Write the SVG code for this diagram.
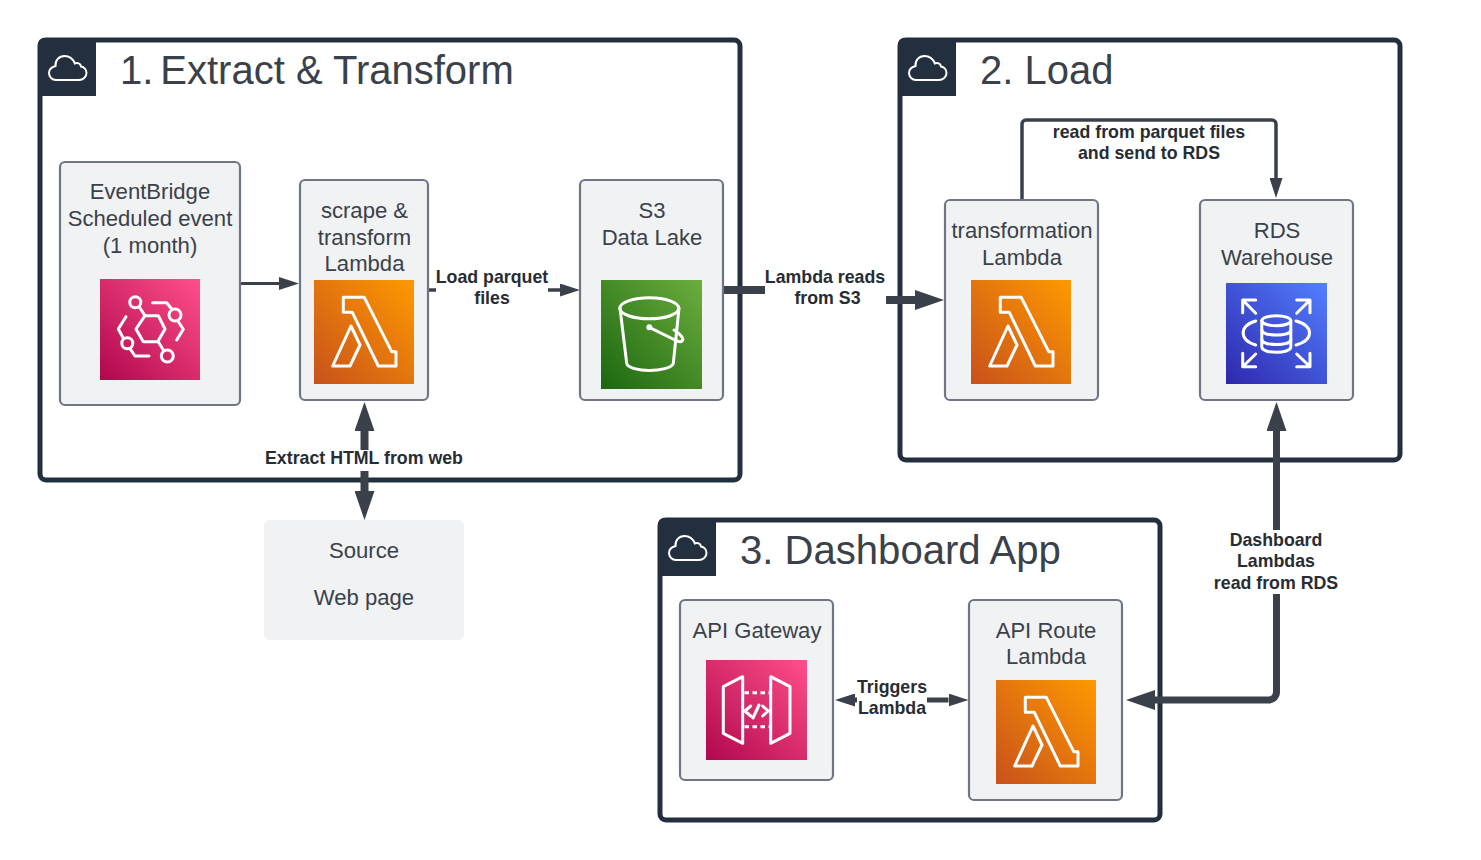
<svg xmlns="http://www.w3.org/2000/svg" width="1481" height="860" viewBox="0 0 1481 860">
<style>
text{font-family:"Liberation Sans",Arial,sans-serif}
.t{font-size:22.1px;fill:#3a414a;text-anchor:middle}
.h{font-size:40px;fill:#3a414a}
.l{font-size:17.75px;font-weight:700;fill:#282c33;text-anchor:middle}
.n{fill:#f1f2f4;stroke:#6e7584;stroke-width:2.2}
.g{fill:none;stroke:#232f3e;stroke-width:5}
.hd{fill:#232f3e}
.c{fill:none;stroke:#3a414a}
.w{fill:none;stroke:#fff;stroke-width:3;stroke-linejoin:round;stroke-linecap:round}
.cl{fill:none;stroke:#fff;stroke-width:2}
</style>
<defs>
<linearGradient id="gO" x1="0" y1="1" x2="1" y2="0"><stop offset="0" stop-color="#c8511b"/><stop offset="1" stop-color="#f90"/></linearGradient>
<linearGradient id="gP" x1="0" y1="1" x2="1" y2="0"><stop offset="0" stop-color="#b0084d"/><stop offset="1" stop-color="#ff4f8b"/></linearGradient>
<linearGradient id="gG" x1="0" y1="1" x2="1" y2="0"><stop offset="0" stop-color="#1b660f"/><stop offset="1" stop-color="#6cae3e"/></linearGradient>
<linearGradient id="gB" x1="0" y1="1" x2="1" y2="0"><stop offset="0" stop-color="#2e27ad"/><stop offset="1" stop-color="#527fff"/></linearGradient>
<marker id="aS" viewBox="0 0 20 13" refX="0" refY="6.5" markerWidth="20" markerHeight="13" markerUnits="userSpaceOnUse" orient="auto-start-reverse"><path d="M0 0L20 6.5L0 13Z" fill="#3a414a"/></marker>
<marker id="aL" viewBox="0 0 29 20" refX="0" refY="10" markerWidth="29" markerHeight="20" markerUnits="userSpaceOnUse" orient="auto-start-reverse"><path d="M0 0L29 10L0 20Z" fill="#3a414a"/></marker>
<g id="lam">
<rect width="100" height="104" fill="url(#gO)"/>
<path class="w" d="M29.300 17.300H50.300L77.700 71.700H82V86H64.300L38.300 32.300H29.300Z"/>
<path class="w" d="M37 46L46 65L36 86H18.700Z"/>
</g>
<path id="cloud" class="cl" d="M8 25H31C35 25 38.500 22 38.500 18C38.500 14.500 36 12 33 11.500C32.500 8.500 29.500 7 27 8.500C25 4 21 1 16.500 1C11 1 7 5.500 7.500 11C3.500 12 1 14.500 1 18C1 22 4 25 8 25Z"/>
</defs>

<g id="group-extract">
<rect class="g" x="40" y="40" width="700" height="440" rx="6"/>
<path class="hd" d="M38 44a6 6 0 0 1 6-6H96V96H38Z"/>
<use href="#cloud" x="48" y="55"/>
<text class="h" x="120" y="84">1.<tspan x="160.300">Extract &amp; Transform</tspan></text>
</g>
<g id="group-load">
<rect class="g" x="900" y="40" width="500" height="420" rx="6"/>
<path class="hd" d="M898 44a6 6 0 0 1 6-6H956V96H898Z"/>
<use href="#cloud" x="908" y="55"/>
<text class="h" x="980" y="84">2. Load</text>
</g>
<g id="group-dashboard">
<rect class="g" x="660" y="520" width="500" height="300" rx="6"/>
<path class="hd" d="M658 524a6 6 0 0 1 6-6H716V576H658Z"/>
<use href="#cloud" x="668" y="535"/>
<text class="h" x="740" y="564" style="font-size:40.1px">3. Dashboard App</text>
</g>

<g id="connectors">
<path class="c" stroke-width="3" marker-end="url(#aS)" d="M241 283.500H279"/>
<path class="c" stroke-width="3.500" d="M429 290H436"/>
<path class="c" stroke-width="3.500" marker-end="url(#aS)" d="M548 290H560"/>
<path class="c" stroke-width="8" d="M724 290H765"/>
<path class="c" stroke-width="8" marker-end="url(#aL)" d="M886 300H915"/>
<path class="c" stroke-width="8" marker-start="url(#aL)" d="M364.500 431V450"/>
<path class="c" stroke-width="8" marker-end="url(#aL)" d="M364.500 471V491"/>
<path class="c" stroke-width="3.500" marker-end="url(#aS)" d="M1022 200V124a4 4 0 0 1 4-4H1272a4 4 0 0 1 4 4V178"/>
<path class="c" stroke-width="7" marker-start="url(#aL)" d="M1276.500 431V530"/>
<path class="c" stroke-width="7" marker-end="url(#aL)" d="M1276.500 594V692a8 8 0 0 1-8 8H1155"/>
<path class="c" stroke-width="5" marker-end="url(#aS)" d="M857 700H855"/>
<path class="c" stroke-width="5" marker-end="url(#aS)" d="M927 700H948.500"/>
</g>

<g id="labels">
<text class="l" x="492" y="283">Load parquet</text>
<text class="l" x="492" y="304">files</text>
<text class="l" x="825" y="283">Lambda reads</text>
<text class="l" x="827.500" y="304">from S3</text>
<text class="l" x="364" y="464">Extract HTML from web</text>
<text class="l" x="1149" y="138">read from parquet files</text>
<text class="l" x="1149" y="159">and send to RDS</text>
<text class="l" x="1276" y="546">Dashboard</text>
<text class="l" x="1276" y="567">Lambdas</text>
<text class="l" x="1276" y="589">read from RDS</text>
<text class="l" x="892" y="693">Triggers</text>
<text class="l" x="892" y="714">Lambda</text>
</g>

<g id="node-eventbridge">
<rect class="n" x="60" y="162" width="180" height="243" rx="5"/>
<text class="t" x="150" y="199">EventBridge</text>
<text class="t" x="150" y="226">Scheduled event</text>
<text class="t" x="150" y="253">(1 month)</text>
<rect x="100" y="279" width="100" height="101" fill="url(#gP)"/>
<g class="w" transform="translate(100 279)">
<circle cx="35.300" cy="23.300" r="5.500"/>
<circle cx="75" cy="36" r="6"/>
<circle cx="27.300" cy="64.300" r="5.500"/>
<circle cx="67.300" cy="77" r="6"/>
<path d="M45 36.700H58.300L65 50L57.700 62.700H43.300L36 50Z"/>
<path d="M40 29L45 36.700"/>
<path d="M58.300 62.700L63.300 71"/>
<path d="M52.700 23.700H66.700L71.700 30"/>
<path d="M78.300 42.700L83.300 50.300L76.700 61"/>
<path d="M26 37.700L18.300 50L23.300 59.300"/>
<path d="M30 69.700L35 77H49"/>
</g>
</g>

<g id="node-scrape">
<rect class="n" x="300" y="180" width="128" height="220" rx="5"/>
<text class="t" x="364.500" y="217.500">scrape &amp;</text>
<text class="t" x="364.500" y="244.500">transform</text>
<text class="t" x="364.500" y="271">Lambda</text>
<use href="#lam" x="314" y="280"/>
</g>

<g id="node-s3">
<rect class="n" x="580" y="180" width="143" height="220" rx="5"/>
<text class="t" x="652" y="218">S3</text>
<text class="t" x="652" y="245">Data Lake</text>
<rect x="601" y="280" width="101" height="109" fill="url(#gG)"/>
<g class="w" transform="translate(601 280)">
<ellipse cx="48.300" cy="28.300" rx="29.500" ry="10.500"/>
<path d="M19 28.300L25.700 83.300C26.500 88 38 90.500 48.300 90.500C58.500 90.500 71.500 88 72.300 83.300L78 28.300"/>
<path d="M48.300 47.300L76 61C81 63 83 60 81 57C79 54 76 52 73 50"/>
<circle cx="48.300" cy="47.300" r="1.500"/>
</g>
</g>

<g id="node-transform">
<rect class="n" x="945" y="200" width="153" height="200" rx="5"/>
<text class="t" x="1022" y="238">transformation</text>
<text class="t" x="1022" y="265">Lambda</text>
<use href="#lam" x="971" y="280"/>
</g>

<g id="node-rds">
<rect class="n" x="1200" y="200" width="153" height="200" rx="5"/>
<text class="t" x="1277" y="238">RDS</text>
<text class="t" x="1277" y="265">Warehouse</text>
<rect x="1226" y="283" width="101" height="101" fill="url(#gB)"/>
<g class="w" transform="translate(1226 283)">
<ellipse cx="50.300" cy="37.700" rx="14.500" ry="5"/>
<path d="M35.800 37.700V64C35.800 67.500 43 69.300 50.300 69.300S64.800 67.500 64.800 64V37.700"/>
<path d="M35.800 47C35.800 50.500 43 52 50.300 52S64.800 50.500 64.800 47M35.800 56.500C35.800 60 43 61.500 50.300 61.500S64.800 60 64.800 56.500"/>
<path d="M29.700 38C13 43 13 57 29.700 62"/>
<path d="M70 38C88 43 88 57 70 62"/>
<path d="M16.700 29.700V17H29.700M16.700 17L29.700 30.300"/>
<path d="M84 29.700V17H70.700M84 17L70.700 30.300"/>
<path d="M16.700 70.300V83.700H29.700M16.700 83.700L29.700 71"/>
<path d="M84 70.300V83.700H70.700M84 83.700L70.700 71"/>
</g>
</g>

<g id="node-source">
<rect x="264" y="520" width="200" height="120" rx="6" fill="#f1f2f4"/>
<text class="t" x="364" y="558">Source</text>
<text class="t" x="364" y="604.500">Web page</text>
</g>

<g id="node-apigw">
<rect class="n" x="680" y="600" width="153" height="180" rx="5"/>
<text class="t" x="757" y="638">API Gateway</text>
<rect x="706" y="660" width="101" height="100" fill="url(#gP)"/>
<g class="w" transform="translate(706 660)">
<path d="M36.700 16.700L17.300 26.700V73.300L36.700 83.300Z"/>
<path d="M64.700 16.700L84 26.700V73.300L64.700 83.300Z"/>
<path d="M38.500 32.700H63.500M38.500 66.700H63.500" stroke-dasharray="4.500 3.500" stroke-linecap="butt"/>
<path d="M44.700 46L39 51L44.700 56M56.700 46L62.300 51L56.700 56M53 45L47 58"/>
</g>
</g>

<g id="node-route">
<rect class="n" x="969" y="600" width="153" height="200" rx="5"/>
<text class="t" x="1046" y="638">API Route</text>
<text class="t" x="1046" y="664">Lambda</text>
<use href="#lam" x="996" y="680"/>
</g>
</svg>
